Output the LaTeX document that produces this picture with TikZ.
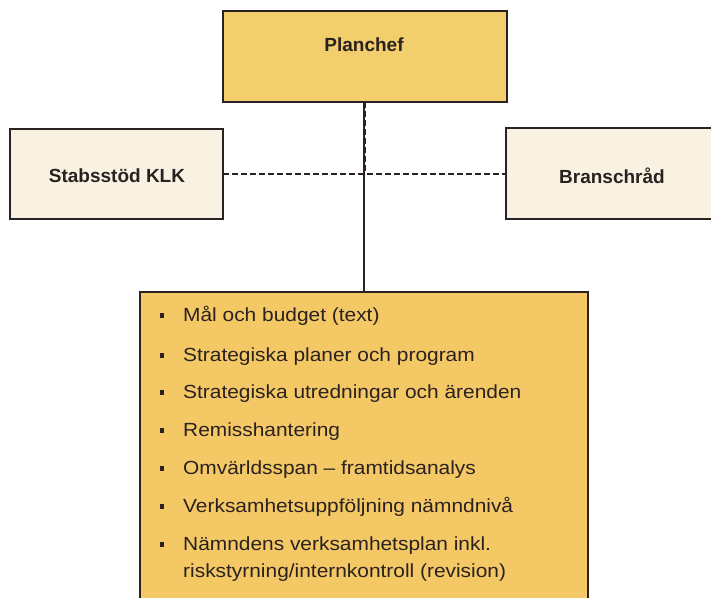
\documentclass[tikz,border=0pt]{standalone}
\usepackage{fontspec}
\setmainfont{Liberation Sans}
\newfontfamily\itemfont[FakeStretch=1.1]{Liberation Sans}
\definecolor{gold}{HTML}{F3CE6C}
\definecolor{goldb}{HTML}{F5C866}
\definecolor{cream}{HTML}{F9F2E3}
\definecolor{ink}{HTML}{2A2220}
\begin{document}
\begin{tikzpicture}[x=1pt,y=-1pt,
  boxs/.style={draw=ink,line width=1.2pt},
  title/.style={font=\fontsize{19}{22}\selectfont\bfseries,text=ink,inner sep=0pt},
  item/.style={font=\itemfont\fontsize{19}{22}\selectfont,text=ink,anchor=base west,inner sep=0pt},
  bul/.style={fill=ink,minimum size=4.5pt,inner sep=0pt}]
\useasboundingbox (0,0) rectangle (711,597);
% boxes
\draw[boxs,fill=gold] (223,11) rectangle (507,102);
\node[title] (plan) at (364,45) {Planchef};
\coordinate (planb) at (364,102);
\draw[boxs,fill=cream] (10,129) rectangle (223,219);
\node[title] (stab) at (117,176) {Stabsstöd KLK};
\coordinate (stabr) at (223,174);
\draw[boxs,fill=cream] (506,128) rectangle (720,219);
\node[title] (bran) at (612,176) {Branschråd};
\coordinate (branl) at (506,174);
\draw[boxs,fill=goldb] (140,292) rectangle (588,610);
\coordinate (listt) at (364,292);
\coordinate (cross) at (365.5,174);
% connectors
\draw[ink,line width=1.2pt] (planb) -- (listt);
\draw[ink,line width=1.6pt,dash pattern=on 6pt off 3pt] (planb) ++(1.5,0) -- (cross);
\draw[ink,line width=1.6pt,dash pattern=on 6pt off 3pt] (stabr) -- (branl);
% items
\foreach \y/\t [count=\i] in {321/{Mål och budget (text)},361/{Strategiska planer och program},398/{Strategiska utredningar och ärenden},436/{Remisshantering},474/{Omvärldsspan – framtidsanalys},512/{Verksamhetsuppföljning nämndnivå},550/{Nämndens verksamhetsplan inkl.}}{
  \node[bul] (b\i) at (162,\y-5.5) {};
  \node[item] (t\i) at (183,\y) {\t};
}
\node[item] (t8) at (183,577) {riskstyrning/internkontroll (revision)};
\end{tikzpicture}
\end{document}
